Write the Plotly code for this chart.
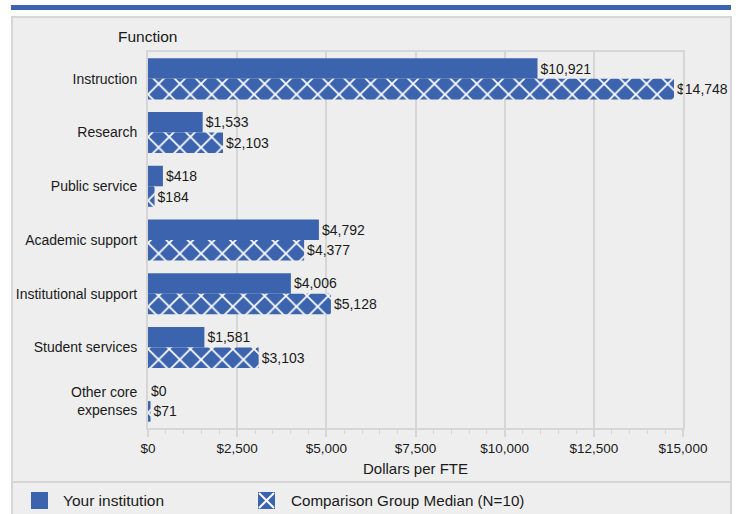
import plotly.graph_objects as go

categories = ["Instruction", "Research", "Public service", "Academic support",
              "Institutional support", "Student services", "Other core<br>expenses"]
your_institution = [10921, 1533, 418, 4792, 4006, 1581, 0]
comparison_median = [14748, 2103, 184, 4377, 5128, 3103, 71]
series_names = ["Your institution", "Comparison Group Median (N=10)"]
x_tick_values = [0, 2500, 5000, 7500, 10000, 12500, 15000]
x_tick_labels = ["$0", "$2,500", "$5,000", "$7,500", "$10,000", "$12,500", "$15,000"]

BLUE = "#3c63ad"
FONT = "Liberation Sans, Arial, sans-serif"
W, H = 743, 514
ML, MR, MT, MB = 148, 60, 52, 86
PW, PH = W - ML - MR, H - MT - MB


def px(x):
    return (x - ML) / PW


def py(y):
    return (H - MB - y) / PH


def money(v):
    return "${:,.0f}".format(v)


fig = go.Figure()
fig.add_trace(go.Bar(
    y=categories, x=your_institution, orientation="h", name=series_names[0],
    marker=dict(color=BLUE, line=dict(width=0)),
    text=[money(v) for v in your_institution], textposition="outside",
    textfont=dict(family=FONT, size=14, color="#1a1a1a"),
    constraintext="none", cliponaxis=False, showlegend=False,
))
fig.add_trace(go.Bar(
    y=categories, x=comparison_median, orientation="h", name=series_names[1],
    marker=dict(color=BLUE, line=dict(width=0),
                pattern=dict(shape="x", fgcolor="white", bgcolor=BLUE,
                             size=15, solidity=0.22, fillmode="replace")),
    text=[money(v) for v in comparison_median], textposition="outside",
    textfont=dict(family=FONT, size=14, color="#1a1a1a"),
    constraintext="none", cliponaxis=False, showlegend=False,
))

shapes = []
# top blue band
shapes.append(dict(type="rect", xref="paper", yref="paper", x0=px(11), x1=px(731),
                   y0=py(10), y1=py(5), fillcolor=BLUE, line=dict(width=0), layer="below"))
# panel
shapes.append(dict(type="rect", xref="paper", yref="paper", x0=px(12), x1=px(731),
                   y0=py(530), y1=py(17), fillcolor="#eeeeee",
                   line=dict(color="#d6d6d6", width=2), layer="below"))
# legend separator
shapes.append(dict(type="line", xref="paper", yref="paper", x0=px(12), x1=px(731),
                   y0=py(482), y1=py(482), line=dict(color="#d6d6d6", width=2), layer="below"))
# legend icons
shapes.append(dict(type="rect", xref="paper", yref="paper", x0=px(31), x1=px(48),
                   y0=py(509), y1=py(492), fillcolor=BLUE, line=dict(width=0)))
shapes.append(dict(type="rect", xref="paper", yref="paper", x0=px(258), x1=px(275),
                   y0=py(509), y1=py(492), fillcolor=BLUE, line=dict(width=0)))
shapes.append(dict(type="line", xref="paper", yref="paper", x0=px(259), x1=px(274),
                   y0=py(508), y1=py(493), line=dict(color="white", width=2)))
shapes.append(dict(type="line", xref="paper", yref="paper", x0=px(259), x1=px(274),
                   y0=py(493), y1=py(508), line=dict(color="white", width=2)))

annotations = [
    dict(text="Function", xref="paper", yref="paper", x=px(116), y=py(37),
         xanchor="left", yanchor="middle", showarrow=False,
         font=dict(family=FONT, size=15.5, color="#1a1a1a")),
    dict(text=series_names[0], xref="paper", yref="paper", x=px(61), y=py(501),
         xanchor="left", yanchor="middle", showarrow=False,
         font=dict(family=FONT, size=15.5, color="#1a1a1a")),
    dict(text=series_names[1], xref="paper", yref="paper", x=px(289), y=py(501),
         xanchor="left", yanchor="middle", showarrow=False,
         font=dict(family=FONT, size=15.2, color="#1a1a1a")),
]

fig.update_layout(
    width=W, height=H, margin=dict(l=ML, r=MR, t=MT, b=MB, pad=0),
    paper_bgcolor="white", plot_bgcolor="rgba(0,0,0,0)",
    barmode="group", bargap=0.236, bargroupgap=0,
    font=dict(family=FONT, size=14, color="#1a1a1a"),
    shapes=shapes, annotations=annotations, showlegend=False,
    xaxis=dict(range=[0, 15000], tickvals=x_tick_values, ticktext=x_tick_labels,
               showgrid=True, gridcolor="#d6d6d6", gridwidth=2,
               showline=True, linecolor="#d6d6d6", linewidth=2, mirror=True,
               ticks="outside", ticklen=7, tickcolor="#d6d6d6", tickwidth=2,
               minor=dict(dtick=500, ticks="outside", ticklen=4, tickcolor="#d6d6d6",
                          tickwidth=1, showgrid=False),
               tickfont=dict(family=FONT, size=13.5, color="#1a1a1a"),
               title=dict(text="Dollars per FTE", font=dict(family=FONT, size=15, color="#1a1a1a"),
                          standoff=8),
               zeroline=False, fixedrange=True),
    yaxis=dict(autorange="reversed", showgrid=False,
               showline=True, linecolor="#d6d6d6", linewidth=2, mirror=True,
               ticks="", ticklabelstandoff=6,
               tickfont=dict(family=FONT, size=14, color="#1a1a1a"),
               fixedrange=True),
)

fig.write_html("out.html", config={"displayModeBar": False},
               post_script="document.body.style.margin='0';document.body.style.padding='0';")
